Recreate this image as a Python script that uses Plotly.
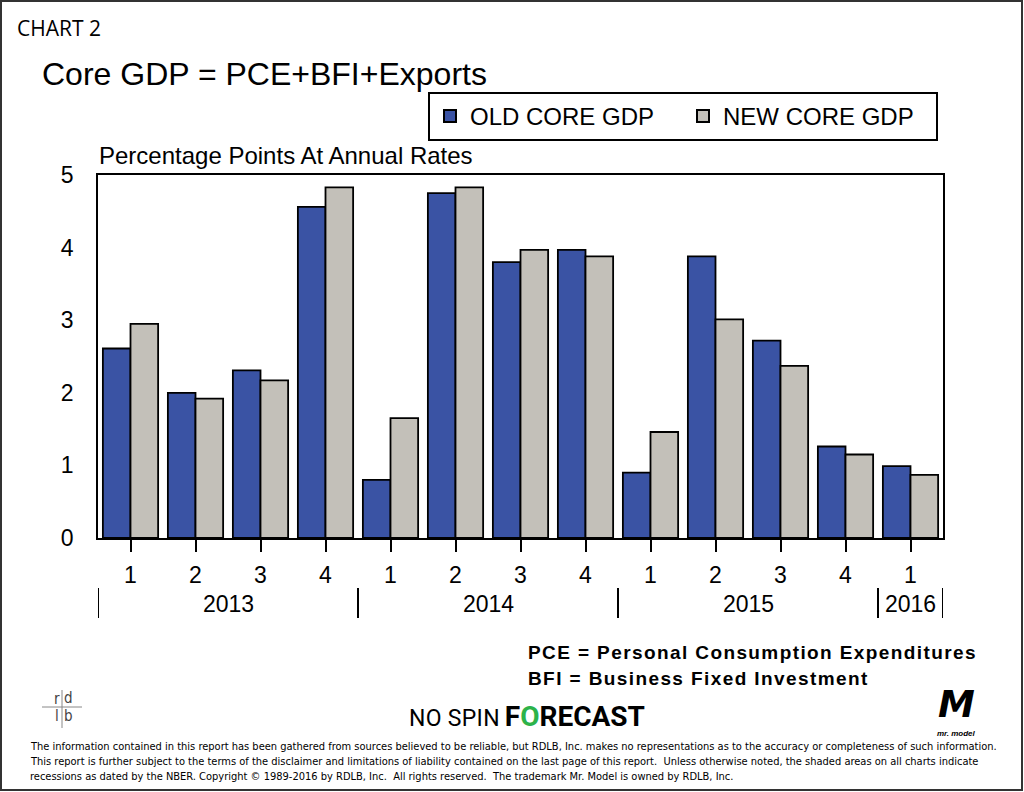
import plotly.graph_objects as go

quarters = ["1", "2", "3", "4", "1", "2", "3", "4", "1", "2", "3", "4", "1"]
years = ["2013", "2014", "2015", "2016"]
year_quarter_counts = [4, 4, 4, 1]
old_core = [2.61, 2.00, 2.31, 4.56, 0.80, 4.75, 3.80, 3.97, 0.90, 3.88, 2.72, 1.26, 0.99]
new_core = [2.95, 1.92, 2.17, 4.83, 1.65, 4.83, 3.97, 3.88, 1.46, 3.01, 2.37, 1.15, 0.87]
y_ticks = [0, 1, 2, 3, 4, 5]

BLUE = "#3A53A4"
GRAY = "#C3C0B9"

W, H = 1024, 792
L, R, T, B = 98, 943, 175, 538  # plot area pixels


def px(x):
    return (x - L) / (R - L)


def py(y):
    return (B - y) / (B - T)


xs = list(range(len(quarters)))

fig = go.Figure()
fig.add_trace(go.Bar(x=xs, y=old_core, name="OLD CORE GDP", marker=dict(color=BLUE, line=dict(color="black", width=1.8))))
fig.add_trace(go.Bar(x=xs, y=new_core, name="NEW CORE GDP", marker=dict(color=GRAY, line=dict(color="black", width=1.8))))

fig.update_layout(
    width=W, height=H,
    margin=dict(l=L, r=W - R, t=T, b=H - B),
    paper_bgcolor="white", plot_bgcolor="white",
    barmode="group", bargap=0.15, bargroupgap=0,
    font=dict(family="Arial, Liberation Sans", color="black"),
    showlegend=True,
    legend=dict(
        orientation="h", x=px(428), y=py(92), xanchor="left", yanchor="top",
        bordercolor="black", borderwidth=2, bgcolor="white",
        font=dict(size=24, family="Arial, Liberation Sans"),
        entrywidth=208, entrywidthmode="pixels",
        itemsizing="constant", tracegroupgap=0,
    ),
)

fig.update_xaxes(
    range=[-0.5, len(quarters) - 0.5],
    tickmode="array", tickvals=xs, ticktext=quarters,
    ticks="outside", ticklen=12, tickwidth=2, tickcolor="black",
    showline=True, linecolor="black", linewidth=1.5, mirror=True,
    showgrid=False, zeroline=False,
    tickfont=dict(size=23), ticklabelstandoff=4,
)
fig.update_yaxes(
    range=[0, 5], tickmode="array", tickvals=y_ticks,
    showline=True, linecolor="black", linewidth=1.5, mirror=True,
    showgrid=False, zeroline=False, ticks="",
    tickfont=dict(size=23), ticklabelstandoff=18,
)

# year labels and separators
start = 0
sep_positions = [-0.5]
for yr, n in zip(years, year_quarter_counts):
    center = start + (n - 1) / 2
    fig.add_annotation(x=center, y=py(604), xref="x", yref="paper", text=yr, showarrow=False,
                       font=dict(size=23), xanchor="center", yanchor="middle")
    start += n
    sep_positions.append(start - 0.5)
for s in sep_positions:
    fig.add_shape(type="line", xref="x", yref="paper", x0=s, x1=s, y0=py(588), y1=py(618),
                  line=dict(color="black", width=2))

# texts
fig.add_annotation(x=px(15), y=py(28), xref="paper", yref="paper", text="CHART 2", showarrow=False,
                   xanchor="left", yanchor="middle", font=dict(size=21, family="Open Sans"))
fig.add_annotation(x=px(40), y=py(74), xref="paper", yref="paper", text="Core GDP = PCE+BFI+Exports", showarrow=False,
                   xanchor="left", yanchor="middle", font=dict(size=32))
fig.add_annotation(x=px(97), y=py(155), xref="paper", yref="paper", text="Percentage Points At Annual Rates", showarrow=False,
                   xanchor="left", yanchor="middle", font=dict(size=24))
fig.add_annotation(x=px(526), y=py(652), xref="paper", yref="paper",
                   text="<b><span style='letter-spacing:1.4px'>PCE = Personal Consumption Expenditures</span></b>",
                   showarrow=False, xanchor="left", yanchor="middle", font=dict(size=19))
fig.add_annotation(x=px(526), y=py(678), xref="paper", yref="paper",
                   text="<b><span style='letter-spacing:1.4px'>BFI = Business Fixed Investment</span></b>",
                   showarrow=False, xanchor="left", yanchor="middle", font=dict(size=19))
fig.add_annotation(x=px(527), y=py(716), xref="paper", yref="paper",
                   text="<span style='font-size:23px;letter-spacing:0.3px'>NO SPIN</span> <b><span style='font-size:28px'>F<span style='color:#2DB34A'>O</span>RECAST</span></b>",
                   showarrow=False, xanchor="center", yanchor="middle", font=dict(size=20, family="Roboto"))
# rdlb logo
fig.add_shape(type="line", xref="paper", yref="paper", x0=px(42), x1=px(82), y0=py(707), y1=py(707),
              line=dict(color="#888", width=1))
fig.add_shape(type="line", xref="paper", yref="paper", x0=px(62), x1=px(62), y0=py(690), y1=py(728),
              line=dict(color="#888", width=1))
for ch, (cx, cy) in zip(["r", "d", "l", "b"], [(57, 699), (68, 698), (57, 716), (68, 716)]):
    fig.add_annotation(x=px(cx), y=py(cy), xref="paper", yref="paper", text=ch, showarrow=False,
                       xanchor="center", yanchor="middle", font=dict(size=15, color="#444", family="DejaVu Sans Condensed, Arial"))
# Mr. Model logo
fig.add_annotation(x=px(956), y=py(704), xref="paper", yref="paper",
                   text="<b><i>M</i></b>", showarrow=False, xanchor="center", yanchor="middle",
                   font=dict(size=37, family="DejaVu Sans, Arial"))
fig.add_annotation(x=px(957), y=py(733), xref="paper", yref="paper",
                   text="<b><i>mr. model</i></b>", showarrow=False, xanchor="center", yanchor="middle",
                   font=dict(size=8))

disclaimer = [
    "The information contained in this report has been gathered from sources believed to be reliable, but RDLB, Inc. makes no representations as to the accuracy or completeness of such information.",
    "This report is further subject to the terms of the disclaimer and limitations of liability contained on the last page of this report.  Unless otherwise noted, the shaded areas on all charts indicate",
    "recessions as dated by the NBER. Copyright \u00a9 1989-2016 by RDLB, Inc.  All rights reserved.  The trademark Mr. Model is owned by RDLB, Inc.",
]
for i, line in enumerate(disclaimer):
    fig.add_annotation(x=px(28), y=py(746 + 15 * i), xref="paper", yref="paper", text=line, showarrow=False,
                       xanchor="left", yanchor="middle",
                       font=dict(size=11, family="DejaVu Sans Condensed, Liberation Sans"))

# page border
fig.add_shape(type="rect", xref="paper", yref="paper", x0=px(1), x1=px(1022), y0=py(1), y1=py(790),
              line=dict(color="#333", width=2))

fig.write_html("out.html")
